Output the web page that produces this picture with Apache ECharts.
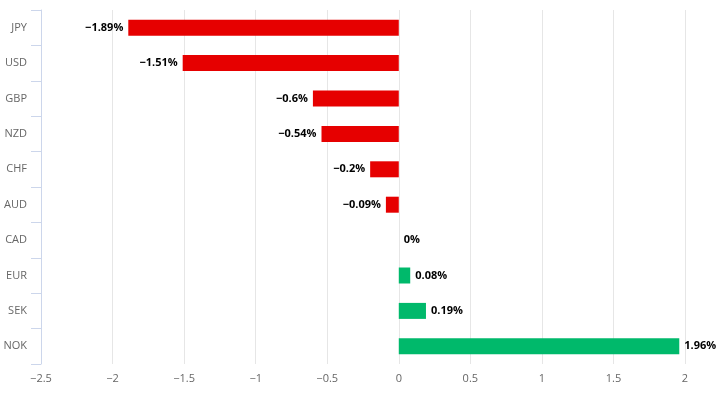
<!DOCTYPE html>
<html>
<head>
<meta charset="utf-8">
<script src="https://cdn.jsdelivr.net/npm/echarts@6/dist/echarts.min.js"></script>
<style>html,body{margin:0;padding:0;background:#fff}#c{width:726px;height:395px}</style>
</head>
<body>
<div id="c"></div>
<script>
const categories = ['JPY', 'USD', 'GBP', 'NZD', 'CHF', 'AUD', 'CAD', 'EUR', 'SEK', 'NOK'];
const values = [-1.89, -1.51, -0.6, -0.54, -0.2, -0.09, 0, 0.08, 0.19, 1.96];
const xTicks = { min: -2.5, max: 2, interval: 0.5 };

const FONT = '"Open Sans", "Liberation Sans", sans-serif';
const fmtNum = v => (v < 0 ? '\u2212' + String(Math.abs(v)) : String(v));

const chart = echarts.init(document.getElementById('c'), null, { renderer: 'canvas' });
chart.setOption({
  animation: false,
  backgroundColor: '#ffffff',
  grid: { left: 41, right: 41, top: 10, bottom: 31, containLabel: false },
  xAxis: {
    type: 'value',
    min: xTicks.min, max: xTicks.max, interval: xTicks.interval,
    axisLine: { show: false },
    axisTick: { show: false },
    splitLine: { show: true, lineStyle: { color: '#e6e6e6', width: 1 } },
    axisLabel: { color: '#666666', fontSize: 11, fontFamily: FONT, margin: 9, formatter: v => fmtNum(v) }
  },
  yAxis: {
    type: 'category',
    data: categories,
    inverse: true,
    axisLine: { show: true, onZero: false, lineStyle: { color: '#ccd6eb', width: 1 } },
    axisTick: { show: true, length: 10, lineStyle: { color: '#ccd6eb' } },
    splitLine: { show: false },
    axisLabel: { color: '#666666', fontSize: 11, fontFamily: FONT, margin: 14 }
  },
  series: [{
    type: 'bar',
    barWidth: 16,
    data: values.map(v => ({
      value: v,
      itemStyle: { color: v < 0 ? '#e60000' : '#00b96b' }
    })),
    label: {
      show: true,
      position: 'outside',
      distance: 5,
      color: '#000000',
      fontSize: 11,
      fontWeight: 'bold',
      fontFamily: FONT,
      formatter: p => fmtNum(p.value) + '%'
    }
  }]
});
</script>
</body>
</html>
